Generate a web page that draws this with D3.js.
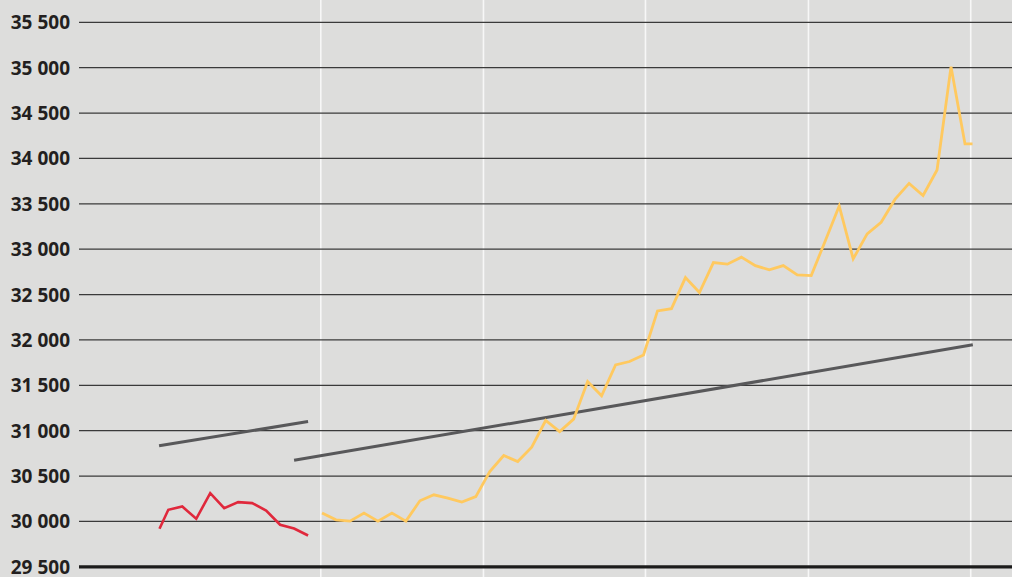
<!DOCTYPE html>
<html>
<head>
<meta charset="utf-8">
<script src="https://cdn.jsdelivr.net/npm/d3@7"></script>
<style>
  html, body { margin: 0; padding: 0; background: #dddddc; }
  svg { display: block; }
</style>
</head>
<body>
<svg id="chart" width="1012" height="577"></svg>
<script>
// ---- data ----
const yTicks = [29500, 30000, 30500, 31000, 31500, 32000, 32500, 33000, 33500, 34000, 34500, 35000, 35500];
const periodGrid = [10.91, 22.55, 34.14, 45.8, 57.41];

const redPeriods = [-0.63, 0, 1, 2, 3, 4, 5, 6, 7, 8, 9, 10];
const redValues  = [29920, 30128, 30164, 30029, 30312, 30147, 30213, 30202, 30120, 29963, 29922, 29845];

const yellowPeriods = [11, 12, 13, 14, 15, 16, 17, 18, 19, 20, 21, 22, 23, 24, 25, 26, 27, 28, 29, 30,
  31, 32, 33, 34, 35, 36, 37, 38, 39, 40, 41, 42, 43, 44, 45, 46, 47, 48, 49, 50, 51, 52, 53, 54, 55, 56, 57, 57.54];
const yellowValues = [30092, 30018, 30003, 30092, 30003, 30092, 30003, 30227, 30293, 30257, 30213, 30274, 30550, 30726, 30660, 30819, 31112, 30990, 31127, 31541,
  31384, 31725, 31762, 31835, 32320, 32345, 32687, 32522, 32852, 32835, 32912, 32819, 32772, 32819, 32717, 32709, 33091, 33477, 32893, 33168, 33297, 33551, 33725, 33592, 33873, 35011, 34160, 34160];

const trend1Periods = [-0.66, 10];
const trend1Values  = [30833, 31100];
const trend2Periods = [9.0, 57.56];
const trend2Values  = [30673, 31946];

// ---- layout ----
const svg = d3.select("#chart");
const x = d3.scaleLinear().domain([0, 57]).range([168.3, 965]);
const y = d3.scaleLinear().domain([29500, 35500]).range([566.8, 22.3]);

svg.append("rect").attr("width", 1012).attr("height", 577).attr("fill", "#dddddc");

// vertical white gridlines
svg.append("g").selectAll("line").data(periodGrid).join("line")
  .attr("x1", d => x(d)).attr("x2", d => x(d))
  .attr("y1", 0).attr("y2", 577)
  .attr("stroke", "#f7f7f7").attr("stroke-width", 1.6);

// horizontal gridlines
svg.append("g").selectAll("line").data(yTicks).join("line")
  .attr("x1", 79).attr("x2", 1012)
  .attr("y1", d => y(d)).attr("y2", d => y(d))
  .attr("stroke", d => d === 29500 ? "#1c1c1c" : "#3a3a3a")
  .attr("stroke-width", d => d === 29500 ? 3.2 : 1.3);

// labels
const fmt = d => d3.format(",")(d).replace(/,/g, " ");
svg.append("g").selectAll("text").data(yTicks).join("text")
  .attr("x", 70).attr("y", d => y(d))
  .attr("text-anchor", "end").attr("dominant-baseline", "central")
  .attr("font-family", "'Open Sans', sans-serif").attr("font-weight", 700)
  .attr("font-size", 19).attr("fill", "#231f20")
  .text(fmt);

const line = d3.line().x(d => x(d[0])).y(d => y(d[1]));

function drawSeries(periods, values, color, width) {
  svg.append("path")
    .datum(periods.map((p, i) => [p, values[i]]))
    .attr("d", line)
    .attr("fill", "none")
    .attr("stroke", color)
    .attr("stroke-width", width)
    .attr("stroke-linejoin", "miter");
}

drawSeries(trend1Periods, trend1Values, "#58585a", 3);
drawSeries(trend2Periods, trend2Values, "#58585a", 3);
drawSeries(redPeriods, redValues, "#e0283c", 2.6);
drawSeries(yellowPeriods, yellowValues, "#ffc95f", 2.8);
</script>
</body>
</html>
